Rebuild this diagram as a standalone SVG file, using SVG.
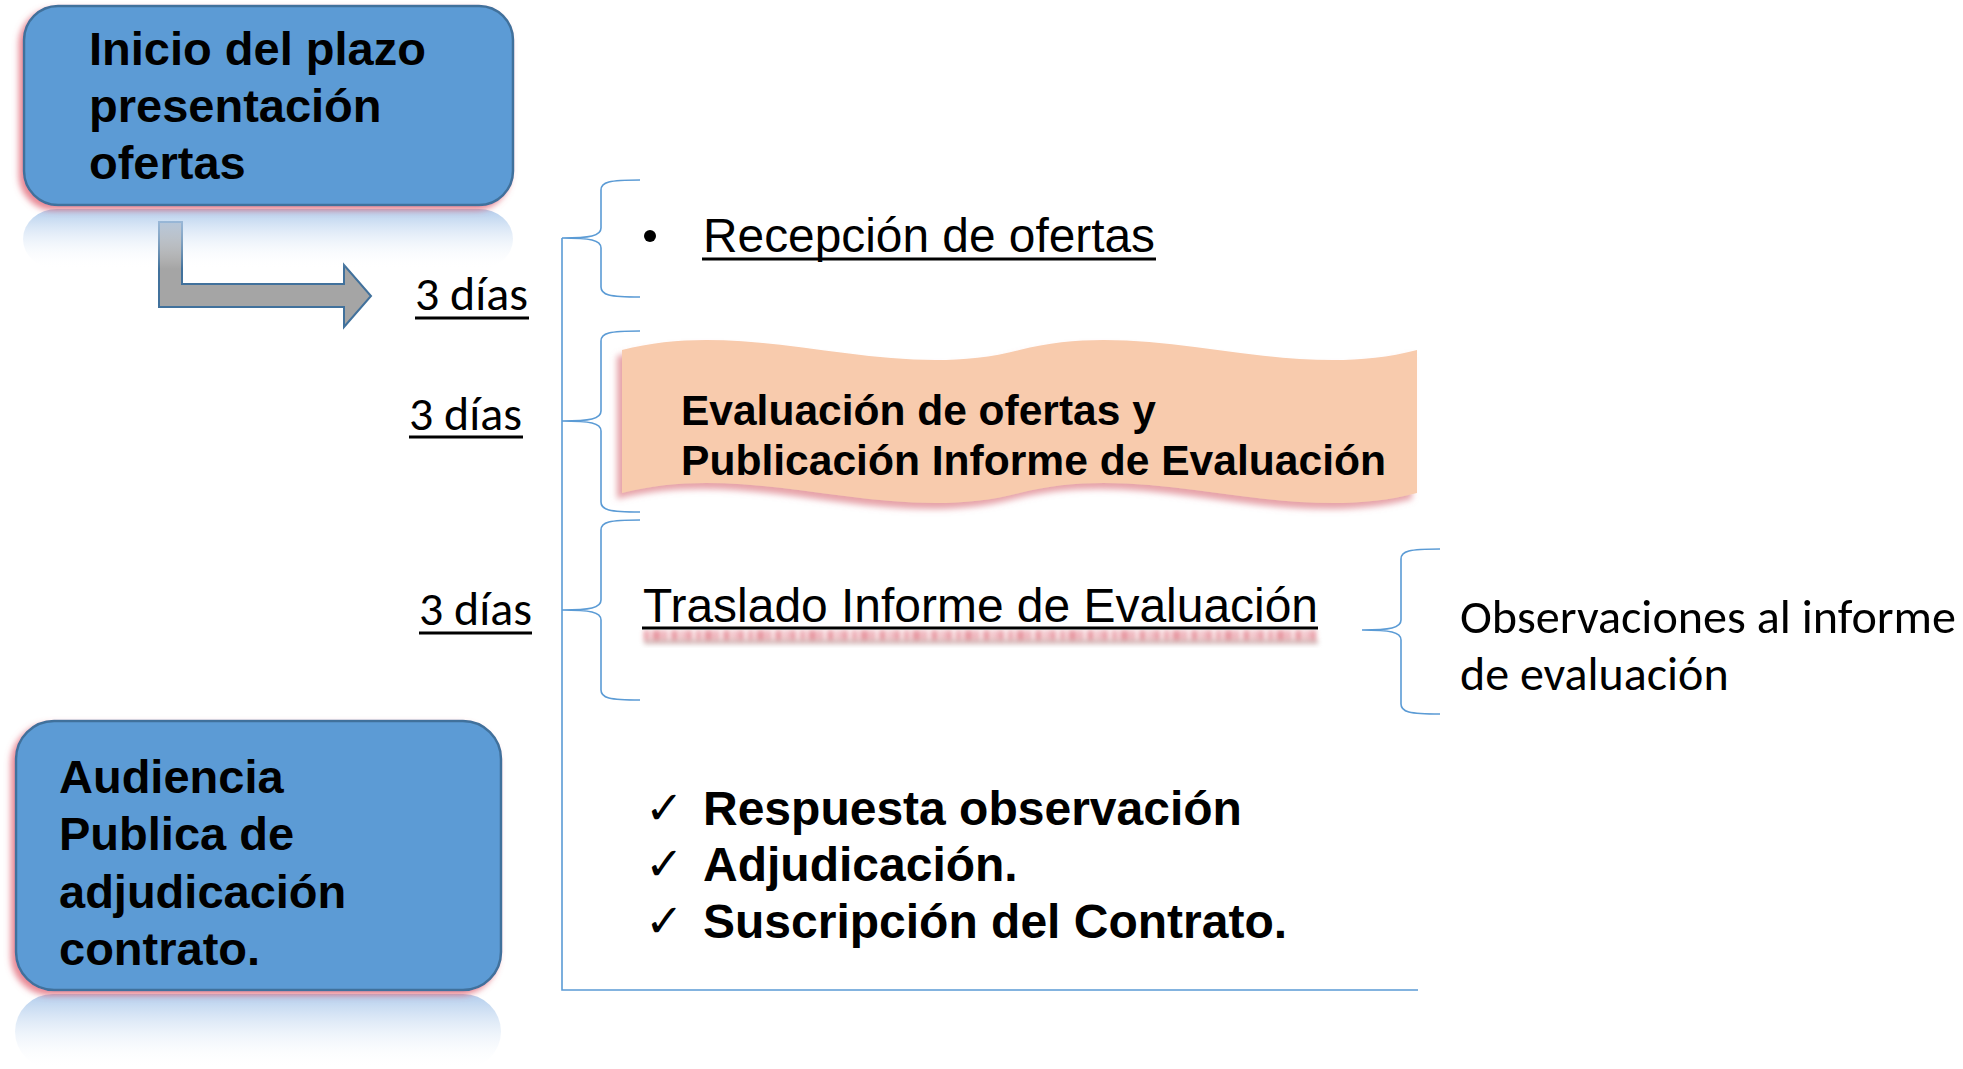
<svg xmlns="http://www.w3.org/2000/svg" width="1963" height="1069" viewBox="0 0 1963 1069">
<defs>
<style>
.box{fill:#5B9BD5;stroke:#41719C;stroke-width:2.5}
.bt{font-family:"Liberation Sans",Arial,sans-serif;font-weight:bold;font-size:47px;fill:#000}
.ar{font-family:"Liberation Sans",Arial,sans-serif;font-size:48px;fill:#000}
.cal{font-family:Carlito,Lato,"Open Sans",sans-serif;font-size:48px;fill:#000}
.brace{fill:none;stroke:#5B9BD5;stroke-width:1.6}
.ul{stroke:#000;stroke-width:3}
.chk{font-family:"DejaVu Sans",sans-serif;font-size:46px;fill:#000}
</style>
<filter id="glow" x="-10%" y="-10%" width="120%" height="130%">
<feGaussianBlur in="SourceAlpha" stdDeviation="3"/>
<feOffset dx="-4" dy="4" result="b"/>
<feFlood flood-color="#E06070" flood-opacity="0.75"/>
<feComposite in2="b" operator="in"/>
<feMerge><feMergeNode/><feMergeNode in="SourceGraphic"/></feMerge>
</filter>
<filter id="wglow" x="-5%" y="-10%" width="110%" height="130%">
<feGaussianBlur in="SourceAlpha" stdDeviation="3"/>
<feOffset dx="-5" dy="6" result="b"/>
<feFlood flood-color="#D9707A" flood-opacity="0.65"/>
<feComposite in2="b" operator="in"/>
<feMerge><feMergeNode/><feMergeNode in="SourceGraphic"/></feMerge>
</filter>
<filter id="tblur" x="-5%" y="-100%" width="110%" height="300%">
<feGaussianBlur stdDeviation="2.5"/>
</filter>
<linearGradient id="refl" x1="0" y1="0" x2="0" y2="1">
<stop offset="0" stop-color="#A9C7EA" stop-opacity="0.9"/>
<stop offset="1" stop-color="#FFFFFF" stop-opacity="0"/>
</linearGradient>
</defs>
<rect width="1963" height="1069" fill="#FFFFFF"/>

<g id="connectors">
<path class="brace" d="M562,238 L562,990 L1418,990"/>
<path class="brace" d="M640,180 C609,180 601,182 601,190 L601,228 C601,236 590,238 562,238 C590,238 601,240 601,248 L601,287 C601,295 609,297 640,297"/>
<path class="brace" d="M640,331 C609,331 601,333 601,341 L601,411 C601,419 590,421 562,421 C590,421 601,423 601,431 L601,502 C601,510 609,512 640,512"/>
<path class="brace" d="M640,520 C609,520 601,522 601,530 L601,600 C601,608 590,610 562,610 C590,610 601,612 601,620 L601,690 C601,698 609,700 640,700"/>
<path class="brace" d="M1440,549 C1409,549 1401,551 1401,559 L1401,620 C1401,628 1390,630 1362,630 C1390,630 1401,632 1401,640 L1401,704 C1401,712 1409,714 1440,714"/>
<path id="bent-arrow" d="M159,222 L182,222 L182,284 L344,284 L344,265 L371,296 L344,327 L344,307 L159,307 Z" fill="#A5A5A5" stroke="#41719C" stroke-width="2"/>
</g>

<g id="node-inicio">
<rect x="23" y="209" width="490" height="60" rx="34" fill="url(#refl)"/>
<rect class="box" x="24" y="6" width="489" height="199" rx="34" filter="url(#glow)"/>
<text class="bt" x="89" y="65">Inicio del plazo</text>
<text class="bt" x="89" y="122">presentación</text>
<text class="bt" x="89" y="179">ofertas</text>
</g>

<g id="node-audiencia">
<rect x="15" y="994" width="486" height="75" rx="38" fill="url(#refl)"/>
<rect class="box" x="16" y="721" width="485" height="269" rx="38" filter="url(#glow)"/>
<text class="bt" x="59" y="793">Audiencia</text>
<text class="bt" x="59" y="850">Publica de</text>
<text class="bt" x="59" y="908">adjudicación</text>
<text class="bt" x="59" y="965">contrato.</text>
</g>

<g id="label-dias-1">
<text class="cal" x="415" y="310" textLength="113" lengthAdjust="spacingAndGlyphs">3 días</text>
<line class="ul" x1="415" y1="318" x2="529" y2="318"/>
</g>
<g id="label-dias-2">
<text class="cal" x="409" y="430" textLength="113" lengthAdjust="spacingAndGlyphs">3 días</text>
<line class="ul" x1="409" y1="437" x2="523" y2="437"/>
</g>
<g id="label-dias-3">
<text class="cal" x="419" y="625" textLength="113" lengthAdjust="spacingAndGlyphs">3 días</text>
<line class="ul" x1="419" y1="633" x2="532" y2="633"/>
</g>

<g id="node-recepcion">
<circle cx="650" cy="236" r="6" fill="#000"/>
<text class="ar" x="703" y="252" textLength="452" lengthAdjust="spacingAndGlyphs">Recepción de ofertas</text>
<line class="ul" x1="702" y1="259" x2="1156" y2="259"/>
</g>

<g id="node-evaluacion">
<path d="M622,350 C754.5,315 887.5,385 1019.5,350 C1152,315 1285,385 1417,350 L1417,493 C1285,528 1152,458 1019.5,493 C887,528 754.5,458 622,493 Z" fill="#F8CBAD" filter="url(#wglow)"/>
<text class="bt" style="font-size:42.5px" x="681" y="425">Evaluación de ofertas y</text>
<text class="bt" style="font-size:42.5px" x="681" y="475" textLength="705" lengthAdjust="spacingAndGlyphs">Publicación Informe de Evaluación</text>
</g>

<g id="node-traslado">
<g filter="url(#tblur)" opacity="0.6">
<line x1="644" y1="636" x2="1318" y2="636" stroke="#D85060" stroke-width="12" stroke-dasharray="5 3 9 2 4 4 7 3 3 2 6 4"/>
<line x1="644" y1="642" x2="1318" y2="642" stroke="#B08080" stroke-width="4"/>
</g>
<text class="ar" x="643" y="622" textLength="675" lengthAdjust="spacingAndGlyphs">Traslado Informe de Evaluación</text>
<line class="ul" x1="642" y1="628" x2="1318" y2="628"/>
</g>

<g id="node-observaciones">
<text class="cal" x="1460" y="633" textLength="496" lengthAdjust="spacingAndGlyphs">Observaciones al informe</text>
<text class="cal" x="1460" y="690">de evaluación</text>
</g>

<g id="node-pasos">
<text class="chk" x="645" y="824">✓</text>
<text class="chk" x="645" y="880">✓</text>
<text class="chk" x="645" y="937">✓</text>
<text class="bt" style="font-size:48px" x="703" y="825">Respuesta observación</text>
<text class="bt" style="font-size:48px" x="703" y="881">Adjudicación.</text>
<text class="bt" style="font-size:48px" x="703" y="938">Suscripción del Contrato.</text>
</g>
</svg>
